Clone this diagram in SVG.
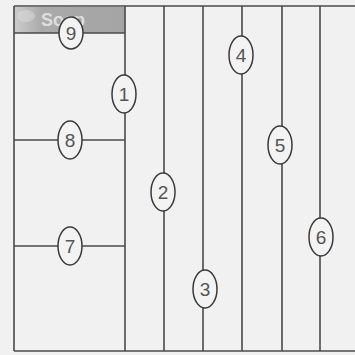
<svg xmlns="http://www.w3.org/2000/svg" width="355" height="355" viewBox="0 0 355 355">
<style>
.ln{stroke:#4a4a4a;stroke-width:1.6;fill:none}
.el{fill:#f3f3f3;stroke:#3a3a3a;stroke-width:1.5}
.num{font-family:"Liberation Sans",Arial,sans-serif;font-size:19px;fill:#555;text-anchor:middle}
</style>
<defs>
<linearGradient id="hdr" x1="0" y1="0" x2="1" y2="0">
<stop offset="0" stop-color="#cdcdcd"/>
<stop offset="0.25" stop-color="#aaaaaa"/>
<stop offset="1" stop-color="#a4a4a4"/>
</linearGradient>
</defs>
<rect x="0" y="0" width="355" height="355" fill="#f1f1f1"/>
<g id="header">
<rect x="14" y="7" width="111" height="26" fill="url(#hdr)"/>
<ellipse cx="26" cy="16" rx="9" ry="6" fill="#e0e0e0" opacity="0.45"/>
<text x="41" y="26" font-family="Liberation Sans,Arial,sans-serif" font-size="18" font-weight="bold" fill="#dedede">Soap</text>
</g>
<g id="connectors">
<path class="ln" d="M14 6H355"/>
<path class="ln" d="M14 351H355"/>
<path class="ln" d="M14 6V351"/>
<path class="ln" d="M125 6V351"/>
<path class="ln" d="M14 33H125"/>
<path class="ln" d="M14 140H125"/>
<path class="ln" d="M14 246H125"/>
<path class="ln" d="M164 6V351"/>
<path class="ln" d="M203 6V351"/>
<path class="ln" d="M242 6V351"/>
<path class="ln" d="M282 6V351"/>
<path class="ln" d="M320 6V351"/>
</g>
<g id="n9"><ellipse class="el" cx="71" cy="33" rx="12" ry="16"/><text class="num" x="71" y="40">9</text></g>
<g id="n1"><ellipse class="el" cx="124" cy="94" rx="12" ry="19"/><text class="num" x="124" y="101">1</text></g>
<g id="n8"><ellipse class="el" cx="70" cy="140" rx="12" ry="19"/><text class="num" x="70" y="147">8</text></g>
<g id="n7"><ellipse class="el" cx="70" cy="246" rx="12" ry="19"/><text class="num" x="70" y="253">7</text></g>
<g id="n2"><ellipse class="el" cx="163" cy="192" rx="12" ry="19"/><text class="num" x="163" y="199">2</text></g>
<g id="n3"><ellipse class="el" cx="205" cy="289" rx="12" ry="19"/><text class="num" x="205" y="296">3</text></g>
<g id="n4"><ellipse class="el" cx="241" cy="55" rx="12" ry="19"/><text class="num" x="241" y="62">4</text></g>
<g id="n5"><ellipse class="el" cx="280" cy="145" rx="12" ry="19"/><text class="num" x="280" y="152">5</text></g>
<g id="n6"><ellipse class="el" cx="321" cy="237" rx="12" ry="19"/><text class="num" x="321" y="244">6</text></g>
</svg>
